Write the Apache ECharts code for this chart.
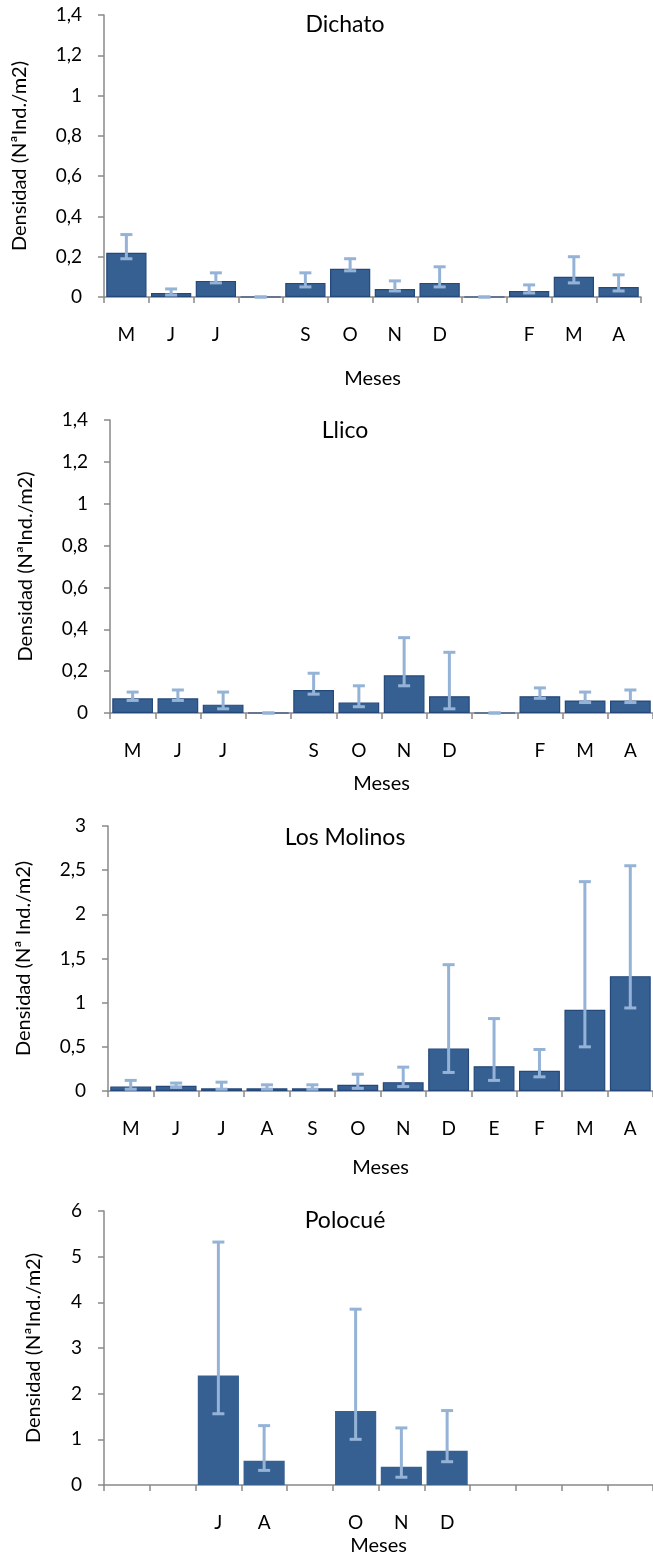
<!DOCTYPE html>
<html>
<head>
<meta charset="utf-8">
<script src="https://cdn.jsdelivr.net/npm/echarts@6/dist/echarts.min.js"></script>
<style>
  html, body { margin: 0; padding: 0; background: #fff; }
  #chart { width: 653px; height: 1557px; }
</style>
</head>
<body>
<div id="chart"></div>
<script>
// Monthly density (ind./m2) at four sites, bars = mean, whiskers = lower/upper limits
const monthsDichato = ['M', 'J', 'J', '', 'S', 'O', 'N', 'D', '', 'F', 'M', 'A'];
const densDichato   = [0.22, 0.02, 0.08, 0, 0.07, 0.14, 0.04, 0.07, 0, 0.03, 0.10, 0.05];
const lowDichato    = [0.19, 0.01, 0.07, 0, 0.05, 0.13, 0.03, 0.05, 0, 0.02, 0.07, 0.03];
const highDichato   = [0.31, 0.04, 0.12, 0, 0.12, 0.19, 0.08, 0.15, 0, 0.06, 0.20, 0.11];

const monthsLlico = ['M', 'J', 'J', '', 'S', 'O', 'N', 'D', '', 'F', 'M', 'A'];
const densLlico   = [0.07, 0.07, 0.04, 0, 0.11, 0.05, 0.18, 0.08, 0, 0.08, 0.06, 0.06];
const lowLlico    = [0.06, 0.06, 0.02, 0, 0.09, 0.03, 0.13, 0.02, 0, 0.07, 0.05, 0.05];
const highLlico   = [0.10, 0.11, 0.10, 0, 0.19, 0.13, 0.36, 0.29, 0, 0.12, 0.10, 0.11];

const monthsMolinos = ['M', 'J', 'J', 'A', 'S', 'O', 'N', 'D', 'E', 'F', 'M', 'A'];
const densMolinos   = [0.05, 0.06, 0.03, 0.03, 0.03, 0.07, 0.10, 0.48, 0.28, 0.23, 0.92, 1.30];
const lowMolinos    = [0.02, 0.04, 0.02, 0.02, 0.02, 0.03, 0.05, 0.21, 0.12, 0.16, 0.50, 0.94];
const highMolinos   = [0.12, 0.09, 0.10, 0.07, 0.07, 0.19, 0.27, 1.43, 0.82, 0.47, 2.37, 2.55];

const monthsPolocue = ['', '', 'J', 'A', '', 'O', 'N', 'D', '', '', '', ''];
const densPolocue   = [null, null, 2.40, 0.53, null, 1.62, 0.40, 0.75, null, null, null, null];
const lowPolocue    = [null, null, 1.56, 0.32, null, 1.00, 0.17, 0.51, null, null, null, null];
const highPolocue   = [null, null, 5.32, 1.30, null, 3.85, 1.25, 1.63, null, null, null, null];

const FONT = 'Lato';
const BAR = '#376092';
const BAR_EDGE = '#24487a';
const ERR = '#95b3d7';
const AXIS = '#898989';

const panels = [
  { title: 'Dichato', yName: 'Densidad (NªInd./m2)', cats: monthsDichato, dens: densDichato, low: lowDichato, high: highDichato,
    max: 1.4, step: 0.2, dec: 1, grid: { left: 104, top: 15, width: 537, height: 282 }, titleTop: 8, xNameGap: 72, yNameGap: 74, edge: true },
  { title: 'Llico', yName: 'Densidad (NªInd./m2)', cats: monthsLlico, dens: densLlico, low: lowLlico, high: highLlico,
    max: 1.4, step: 0.2, dec: 1, grid: { left: 110, top: 420, width: 546, height: 293 }, titleTop: 414, xNameGap: 61, yNameGap: 74, edge: true },
  { title: 'Los Molinos', yName: 'Densidad (Nª Ind./m2)', cats: monthsMolinos, dens: densMolinos, low: lowMolinos, high: highMolinos,
    max: 3, step: 0.5, dec: 1, grid: { left: 108, top: 826, width: 552, height: 265 }, titleTop: 821, xNameGap: 67, yNameGap: 74, edge: true },
  { title: 'Polocué', yName: 'Densidad (NªInd./m2)', cats: monthsPolocue, dens: densPolocue, low: lowPolocue, high: highPolocue,
    max: 6, step: 1, dec: 0, grid: { left: 104, top: 1211, width: 559, height: 277 }, titleTop: 1204, xNameGap: 51, yNameGap: 60, edge: false }
];

function errorBarItem(params, api) {
  const x = api.value(0);
  const lo = api.value(1);
  const hi = api.value(2);
  const pHi = api.coord([x, hi]);
  const pLo = api.coord([x, lo]);
  const half = 6;
  const style = { stroke: ERR, lineWidth: 3 };
  return {
    type: 'group',
    children: [
      { type: 'line', shape: { x1: pHi[0], y1: pHi[1], x2: pLo[0], y2: pLo[1] }, style: style },
      { type: 'line', shape: { x1: pHi[0] - half, y1: pHi[1], x2: pHi[0] + half, y2: pHi[1] }, style: style },
      { type: 'line', shape: { x1: pLo[0] - half, y1: pLo[1], x2: pLo[0] + half, y2: pLo[1] }, style: style }
    ]
  };
}

const option = {
  animation: false,
  backgroundColor: '#ffffff',
  textStyle: { fontFamily: FONT },
  title: [], grid: [], xAxis: [], yAxis: [], series: []
};

panels.forEach((p, i) => {
  option.title.push({
    text: p.title, left: 340, top: p.titleTop, textAlign: 'center',
    textStyle: { fontFamily: FONT, fontSize: 23, fontWeight: 'normal', color: '#000' }
  });
  option.grid.push(Object.assign({ containLabel: false }, p.grid));
  option.xAxis.push({
    type: 'category', gridIndex: i, data: p.cats,
    name: 'Meses', nameLocation: 'middle', nameGap: p.xNameGap,
    nameTextStyle: { fontFamily: FONT, fontSize: 20, color: '#000' },
    axisLine: { lineStyle: { color: AXIS, width: 1.5 } },
    axisTick: { show: true, length: 6, lineStyle: { color: AXIS, width: 1.5 } },
    axisLabel: { interval: 0, margin: 28, fontFamily: FONT, fontSize: 19, color: '#000' },
    splitLine: { show: false }
  });
  option.yAxis.push({
    type: 'value', gridIndex: i, min: 0, max: p.max, interval: p.step,
    name: p.yName, nameLocation: 'middle', nameGap: p.yNameGap, nameRotate: 90,
    nameTextStyle: { fontFamily: FONT, fontSize: 20, color: '#000' },
    axisLine: { show: true, lineStyle: { color: AXIS, width: 1.5 } },
    axisTick: { show: true, length: 6, lineStyle: { color: AXIS, width: 1.5 } },
    axisLabel: { margin: 22, fontFamily: FONT, fontSize: 19, color: '#000',
      formatter: v => v.toFixed(p.dec).replace('.', ',').replace(/,0$/, '') },
    splitLine: { show: false }
  });
  option.series.push({
    type: 'bar', xAxisIndex: i, yAxisIndex: i, data: p.dens,
    barCategoryGap: '10%',
    itemStyle: { color: BAR, borderColor: p.edge ? BAR_EDGE : BAR, borderWidth: p.edge ? 1.2 : 0 }
  });
  const errData = [];
  p.dens.forEach((v, k) => {
    if (v !== null) errData.push([k, p.low[k], p.high[k]]);
  });
  option.series.push({
    type: 'custom', xAxisIndex: i, yAxisIndex: i, data: errData,
    renderItem: errorBarItem, z: 3,
    encode: { x: 0, y: [1, 2] }
  });
});

const chart = echarts.init(document.getElementById('chart'), null, { renderer: 'canvas' });
chart.setOption(option);
</script>
</body>
</html>
